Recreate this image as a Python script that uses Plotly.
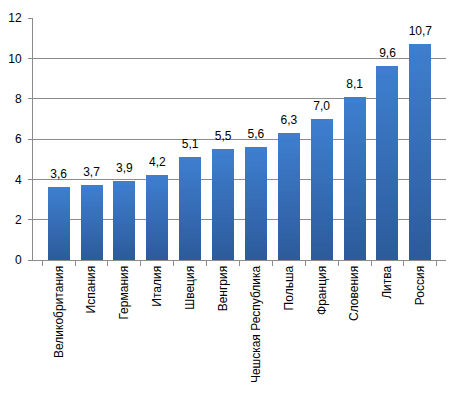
import plotly.graph_objects as go

countries = ["Великобритания", "Испания", "Германия", "Италия", "Швеция", "Венгрия",
             "Чешская Республика", "Польша", "Франция", "Словения", "Литва", "Россия"]
values = [3.6, 3.7, 3.9, 4.2, 5.1, 5.5, 5.6, 6.3, 7.0, 8.1, 9.6, 10.7]
labels = ["3,6", "3,7", "3,9", "4,2", "5,1", "5,5", "5,6", "6,3", "7,0", "8,1", "9,6", "10,7"]

top_rgb = (62, 126, 207)
bot_rgb = (45, 91, 156)
N = 24

fig = go.Figure()
for k in range(N):
    t = k / (N - 1)
    c = tuple(round(bot_rgb[i] + (top_rgb[i] - bot_rgb[i]) * t) for i in range(3))
    fig.add_trace(go.Bar(
        x=countries, y=[v / N for v in values],
        marker=dict(color="rgb(%d,%d,%d)" % c, line=dict(width=0)),
        hoverinfo="skip", showlegend=False,
    ))

fig.add_trace(go.Scatter(
    x=countries, y=values, mode="markers+text", text=labels,
    marker=dict(size=8, color="rgba(0,0,0,0)"),
    textposition="top center", textfont=dict(size=12, color="#000000",
                                             family="Liberation Sans, Arial"),
    showlegend=False, cliponaxis=False, hoverinfo="skip",
))

fig.update_layout(
    barmode="stack", bargap=0.33,
    width=462, height=395,
    margin=dict(l=33, r=16, t=18, b=135),
    paper_bgcolor="white", plot_bgcolor="white",
    font=dict(family="Liberation Sans, Arial", size=12, color="#000000"),
)
fig.update_yaxes(range=[0, 12], dtick=2, showgrid=True, gridcolor="#8c8c8c", gridwidth=1,
                 showline=True, linecolor="#8c8c8c", ticks="outside", ticklen=4,
                 tickcolor="#8c8c8c", zeroline=False, tickfont=dict(size=12),
                 automargin=False, ticklabelstandoff=4)
fig.update_xaxes(showline=True, linecolor="#8c8c8c", ticks="outside", ticklen=5,
                 tickcolor="#8c8c8c", tickson="boundaries", tickangle=-90,
                 tickfont=dict(size=12), automargin=False)

fig.write_html("out.html", config={"displayModeBar": False},
               post_script="document.body.style.margin='0';document.body.style.overflow='hidden';")
